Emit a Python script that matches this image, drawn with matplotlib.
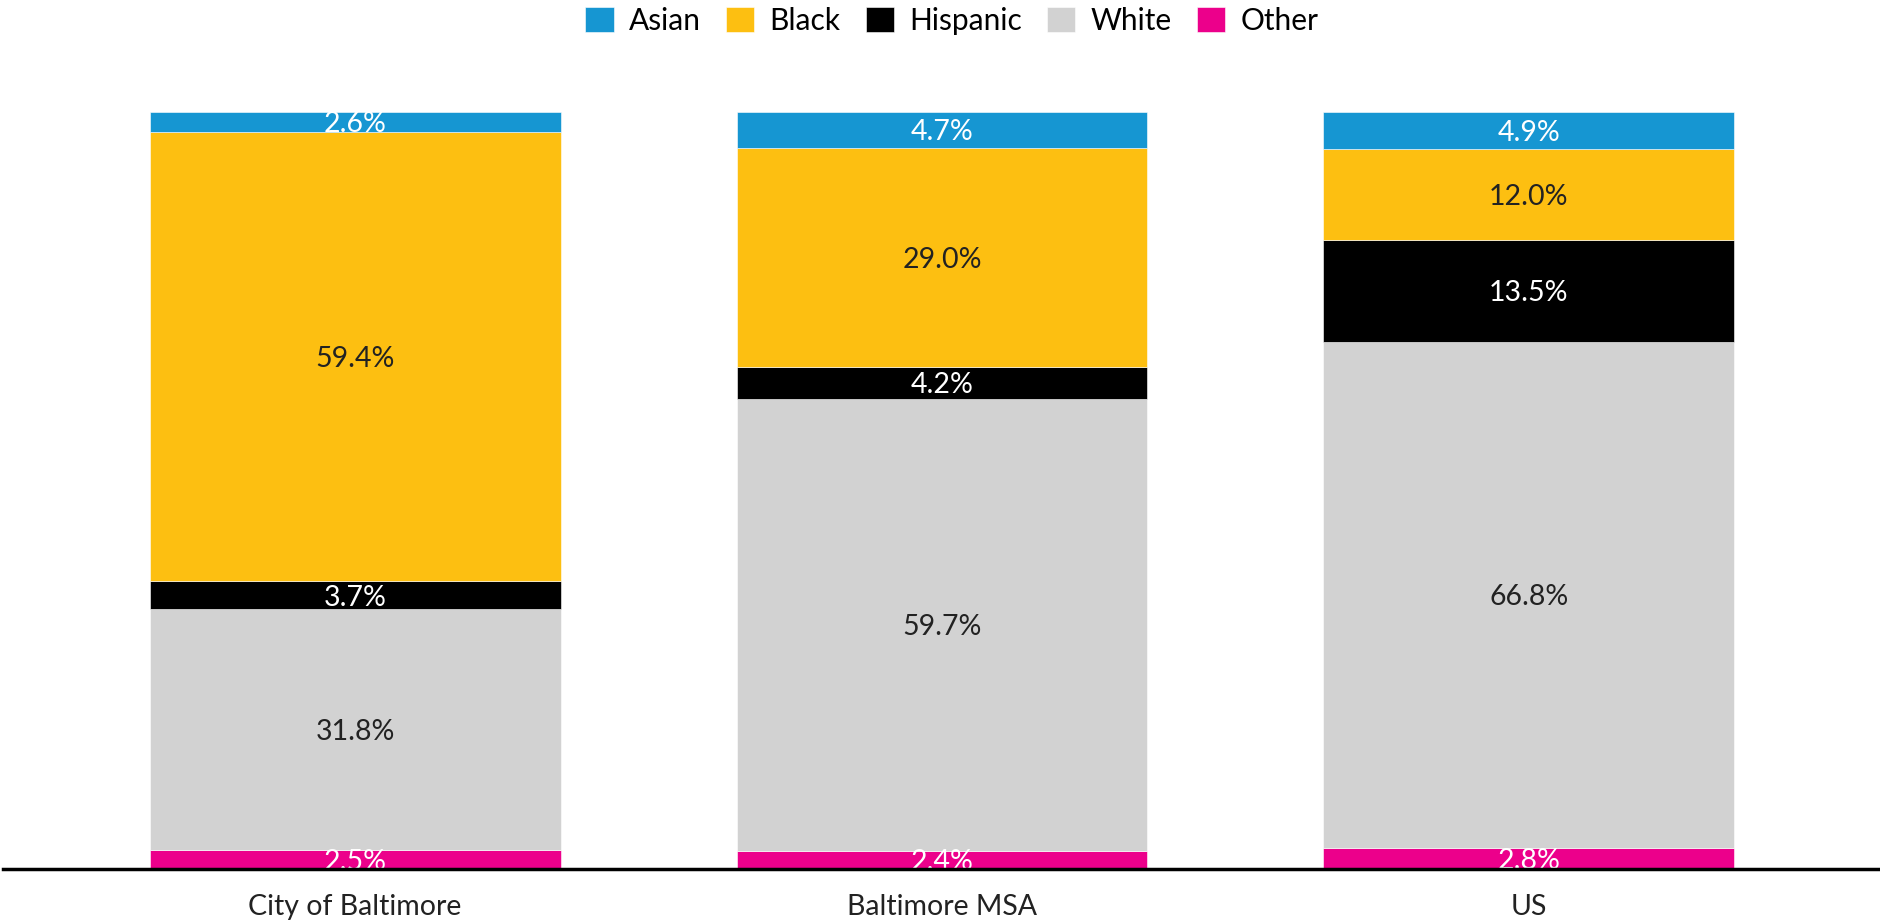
import matplotlib.pyplot as plt
import numpy as np

plt.rcParams['font.family'] = ['Lato', 'DejaVu Sans']

places = ['City of Baltimore', 'Baltimore MSA', 'US']
groups = ['Asian', 'Black', 'Hispanic', 'White', 'Other']
colors = ['#1696d2', '#fdbf11', '#000000', '#d2d2d2', '#ec008b']
text_colors = ['white', '#222222', 'white', '#222222', 'white']

asian = [2.6, 4.7, 4.9]
black = [59.4, 29.0, 12.0]
hispanic = [3.7, 4.2, 13.5]
white = [31.8, 59.7, 66.8]
other = [2.5, 2.4, 2.8]

shares = [asian, black, hispanic, white, other]

fig = plt.figure(figsize=(18.81, 9.24), dpi=100)
ax = fig.add_axes([3 / 1881, 55 / 924, 1 - 3 / 1881, (869 - 112) / 924])

x = np.arange(len(places))
bottom = np.zeros(len(places))
# stack from the bottom up: Other, White, Hispanic, Black, Asian
for i in reversed(range(len(groups))):
    vals = np.array(shares[i])
    ax.bar(x, vals, width=0.70, bottom=bottom, color=colors[i],
           label=groups[i], edgecolor='white', linewidth=0.4)
    for xi, v, b in zip(x, vals, bottom):
        ax.text(xi, b + v / 2 - 0.3, f'{v:.1f}%', ha='center', va='center',
                fontsize=20.5, color=text_colors[i], clip_on=True)
    bottom += vals

ax.set_xlim(-0.6, 2.6)
ax.set_ylim(0, 100)
ax.set_yticks([])
ax.set_xticks(x)
ax.set_xticklabels(places, fontsize=20.5, color='#222222')
ax.tick_params(axis='x', length=0, pad=18)
for side in ['top', 'right', 'left']:
    ax.spines[side].set_visible(False)
ax.spines['bottom'].set_linewidth(2.5)
ax.spines['bottom'].set_zorder(5)

handles, labels = ax.get_legend_handles_labels()
order = [labels.index(g) for g in groups]
fig.legend([handles[k] for k in order], groups, loc='upper center',
           bbox_to_anchor=(0.506, 1.022), ncol=5, frameon=False, fontsize=21.5,
           handlelength=0.95, handleheight=0.95, handletextpad=0.5,
           columnspacing=0.85)

fig.savefig('out.png', dpi=100)
